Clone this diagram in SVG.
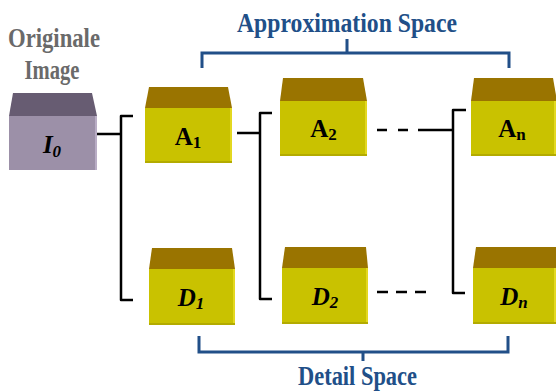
<svg xmlns="http://www.w3.org/2000/svg" width="556" height="392" viewBox="0 0 556 392">
  <style>
    .front { fill: #c9c200; }
    .top { fill: #9a7400; }
    .edge { fill: #e3d820; }
    .base { fill: #b3ab00; }
    .gfront { fill: #9c90a8; }
    .gtop { fill: #675c72; }
    .gedge { fill: #b9adc5; }
    .lbl { font-family: "Liberation Serif", "Times New Roman", serif; font-weight: bold; fill: #000; text-anchor: middle; font-size: 25px; }
    .it { font-style: italic; }
    .sub { font-size: 17px; }
    .wire { fill: none; stroke: #000; stroke-width: 2.5; stroke-linejoin: round; }
    .brace { fill: none; stroke: #214f88; stroke-width: 3; }
    .title { font-family: "Liberation Serif", "Times New Roman", serif; font-weight: bold; text-anchor: middle; }
  </style>

  <!-- headings -->
  <text class="title" x="54" y="47" font-size="27" fill="#6a6a6a" textLength="92" lengthAdjust="spacingAndGlyphs">Originale</text>
  <text class="title" x="52" y="79" font-size="27" fill="#6a6a6a" textLength="55" lengthAdjust="spacingAndGlyphs">Image</text>
  <text class="title" x="347" y="32" font-size="28" fill="#214f88" textLength="220" lengthAdjust="spacingAndGlyphs">Approximation Space</text>
  <text class="title" x="357.5" y="385" font-size="27" fill="#214f88" textLength="119" lengthAdjust="spacingAndGlyphs">Detail Space</text>

  <!-- space braces -->
  <path class="brace" d="M202 68 V53 H509 V68 M347 53 V39"/>
  <path class="brace" d="M199 336 V352 H508 V336 M363 352 V361"/>

  <!-- connectors -->
  <g id="connectors">
    <path class="wire" d="M97 134 H121 M133 116 H121 V300 H133"/>
    <path class="wire" d="M237 133 H260 M272 113 H260 V299 H272"/>
    <path class="wire" d="M377 130 H418" stroke-dasharray="10 11"/>
    <path class="wire" d="M418 130 H453 M466 110 H453 V293 H465"/>
    <path class="wire" d="M377 292 H427" stroke-dasharray="11 8"/>
  </g>

  <!-- original image -->
  <g id="I0">
    <polygon class="gtop" points="13,93 92,93 97,116 9,116"/>
    <rect class="gfront" x="9" y="116" width="88" height="54"/>
    <rect class="gedge" x="95" y="116" width="2" height="54"/>
    <text class="lbl it" x="52" y="153" font-size="28">I<tspan class="sub" dy="4" font-size="20">0</tspan></text>
  </g>

  <!-- approximation coefficients -->
  <g id="A1">
    <polygon class="top" points="149,87 228,87 232,108 145,108"/>
    <rect class="front" x="145" y="108" width="87" height="55"/>
    <rect class="edge" x="230" y="108" width="2" height="55"/>
    <rect class="base" x="145" y="161" width="87" height="2"/>
    <text class="lbl" x="188" y="145">A<tspan class="sub" dy="3">1</tspan></text>
  </g>
  <g id="A2">
    <polygon class="top" points="283,78 363,78 367,101 280,101"/>
    <rect class="front" x="280" y="101" width="87" height="55"/>
    <rect class="edge" x="365" y="101" width="2" height="55"/>
    <rect class="base" x="280" y="154" width="87" height="2"/>
    <text class="lbl" x="323.5" y="137">A<tspan class="sub" dy="3">2</tspan></text>
  </g>
  <g id="An">
    <polygon class="top" points="474,78 553,78 557,101 471,101"/>
    <rect class="front" x="471" y="101" width="87" height="55"/>
    <rect class="edge" x="554" y="101" width="2" height="55"/>
    <rect class="base" x="471" y="154" width="87" height="2"/>
    <text class="lbl" x="512" y="137">A<tspan class="sub" dy="3">n</tspan></text>
  </g>

  <!-- detail coefficients -->
  <g id="D1">
    <polygon class="top" points="152,248 232,248 235,269 149,269"/>
    <rect class="front" x="149" y="269" width="86" height="56"/>
    <rect class="edge" x="233" y="269" width="2" height="56"/>
    <rect class="base" x="149" y="323" width="86" height="2"/>
    <text class="lbl it" x="191" y="306">D<tspan class="sub" dy="3">1</tspan></text>
  </g>
  <g id="D2">
    <polygon class="top" points="285,247 366,247 368,268 282,268"/>
    <rect class="front" x="282" y="268" width="86" height="56"/>
    <rect class="edge" x="366" y="268" width="2" height="56"/>
    <rect class="base" x="282" y="322" width="86" height="2"/>
    <text class="lbl it" x="325" y="305">D<tspan class="sub" dy="3">2</tspan></text>
  </g>
  <g id="Dn">
    <polygon class="top" points="476,247 556,247 560,268 473,268"/>
    <rect class="front" x="473" y="268" width="87" height="56"/>
    <rect class="edge" x="554" y="268" width="2" height="56"/>
    <rect class="base" x="473" y="322" width="87" height="2"/>
    <text class="lbl it" x="514" y="305">D<tspan class="sub" dy="3">n</tspan></text>
  </g>
</svg>
